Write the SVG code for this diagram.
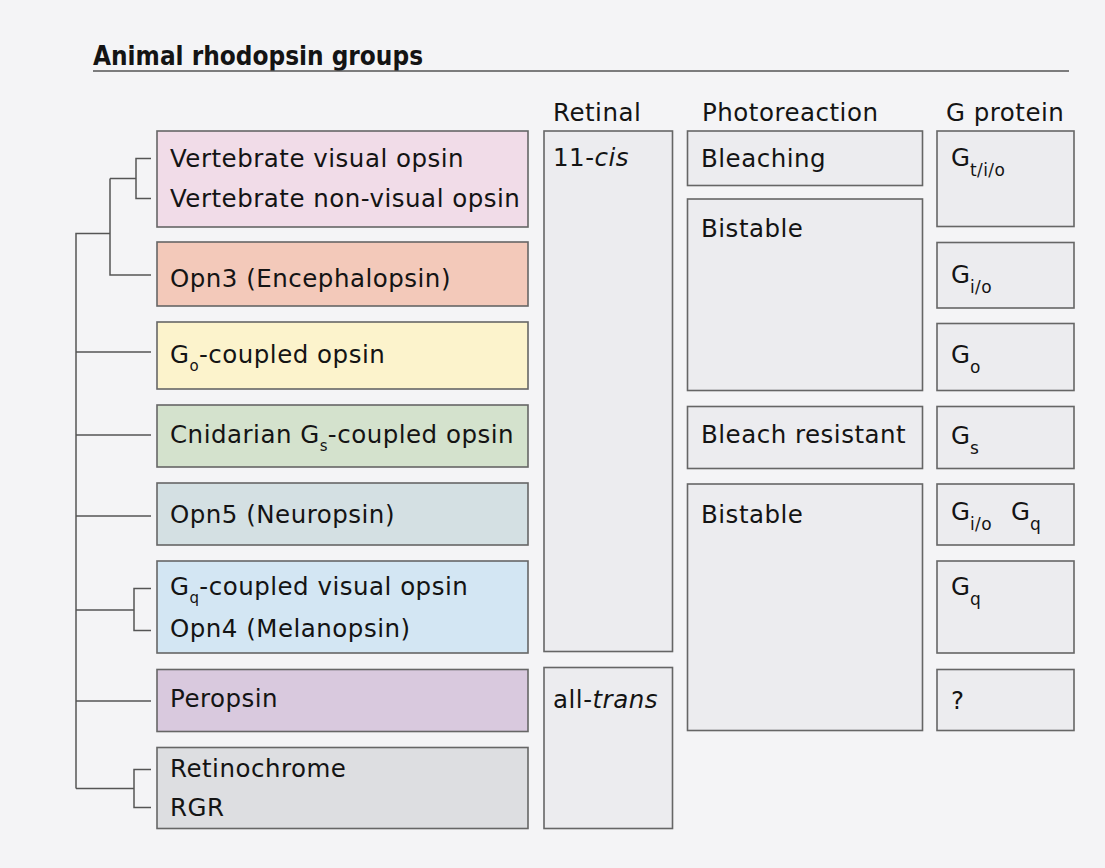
<svg xmlns="http://www.w3.org/2000/svg" width="1105" height="868" viewBox="0 0 1105 868">
<style>
  text { font-family: "DejaVu Sans", "Liberation Sans", sans-serif; font-size: 24.5px; fill: #141414; letter-spacing: 0.5px; }
  .title { font-size: 26px; font-weight: bold; letter-spacing: 0; }
  .sub { font-size: 15px; letter-spacing: 0.3px; }
  .g { letter-spacing: 0; }
  .gsub { font-size: 17px; letter-spacing: 0.4px; }
  .cell { fill: #ececef; stroke: #666; stroke-width: 1.6; }
  .grp { stroke: #666; stroke-width: 1.6; }
  .tree path { fill: none; stroke: #555; stroke-width: 1.5; }
</style>
<rect x="0" y="0" width="1105" height="868" fill="#f4f4f6"/>

<g id="title">
  <text class="title" x="93" y="65" textLength="330" lengthAdjust="spacingAndGlyphs">Animal rhodopsin groups</text>
  <line x1="93" y1="71" x2="1069" y2="71" stroke="#555" stroke-width="1.5"/>
</g>

<g id="headers">
  <text x="553" y="121">Retinal</text>
  <text x="702" y="121">Photoreaction</text>
  <text x="946" y="121">G protein</text>
</g>

<g class="tree" id="connectors">
  <path d="M151,158.5 H136 V198.5 H151"/>
  <path d="M136,178.5 H110"/>
  <path d="M110,178.5 V275 H151"/>
  <path d="M110,233.5 H76 V788.5"/>
  <path d="M76,352 H151"/>
  <path d="M76,435 H151"/>
  <path d="M76,516 H151"/>
  <path d="M76,610 H134"/>
  <path d="M151,588.5 H134 V630.5 H151"/>
  <path d="M76,701 H151"/>
  <path d="M76,788.5 H134"/>
  <path d="M151,769.5 H134 V807.5 H151"/>
</g>

<g id="vertebrate">
  <rect class="grp" x="157" y="131" width="371" height="96" fill="#f1dce8"/>
  <text x="170" y="167">Vertebrate visual opsin</text>
  <text x="170" y="207">Vertebrate non-visual opsin</text>
</g>
<g id="opn3">
  <rect class="grp" x="157" y="242" width="371" height="64" fill="#f3c9ba"/>
  <text x="170" y="287">Opn3 (Encephalopsin)</text>
</g>
<g id="go-opsin">
  <rect class="grp" x="157" y="322" width="371" height="67" fill="#fcf3cc"/>
  <text x="170" y="363">G<tspan class="sub" dy="8">o</tspan><tspan dy="-8">-coupled opsin</tspan></text>
</g>
<g id="gs-opsin">
  <rect class="grp" x="157" y="405" width="371" height="62" fill="#d4e2cd"/>
  <text x="170" y="443">Cnidarian G<tspan class="sub" dy="8">s</tspan><tspan dy="-8">-coupled opsin</tspan></text>
</g>
<g id="opn5">
  <rect class="grp" x="157" y="483" width="371" height="62" fill="#d4e0e3"/>
  <text x="170" y="523">Opn5 (Neuropsin)</text>
</g>
<g id="gq-opsin">
  <rect class="grp" x="157" y="561" width="371" height="92" fill="#d3e6f3"/>
  <text x="170" y="595">G<tspan class="sub" dy="8">q</tspan><tspan dy="-8">-coupled visual opsin</tspan></text>
  <text x="170" y="636.5">Opn4 (Melanopsin)</text>
</g>
<g id="peropsin">
  <rect class="grp" x="157" y="669.5" width="371" height="62" fill="#d9c9de"/>
  <text x="170" y="707">Peropsin</text>
</g>
<g id="retinochrome">
  <rect class="grp" x="157" y="747.5" width="371" height="81" fill="#dddee1"/>
  <text x="170" y="777">Retinochrome</text>
  <text x="170" y="816">RGR</text>
</g>

<g id="retinal-11cis">
  <rect class="cell" x="544" y="131" width="128.5" height="520.5"/>
  <text x="553" y="166">11-<tspan font-style="italic">cis</tspan></text>
</g>
<g id="retinal-alltrans">
  <rect class="cell" x="544" y="667.5" width="128.5" height="161"/>
  <text x="553" y="708">all-<tspan font-style="italic">trans</tspan></text>
</g>

<g id="photo-bleaching">
  <rect class="cell" x="687.5" y="131" width="235" height="54.5"/>
  <text x="701" y="167">Bleaching</text>
</g>
<g id="photo-bistable-1">
  <rect class="cell" x="687.5" y="199" width="235" height="191.5"/>
  <text x="701" y="237">Bistable</text>
</g>
<g id="photo-bleach-resistant">
  <rect class="cell" x="687.5" y="406.5" width="235" height="62"/>
  <text x="701" y="443">Bleach resistant</text>
</g>
<g id="photo-bistable-2">
  <rect class="cell" x="687.5" y="484" width="235" height="246.5"/>
  <text x="701" y="523">Bistable</text>
</g>

<g id="gp-tio">
  <rect class="cell" x="937" y="131" width="137" height="95.5"/>
  <text class="g" x="951" y="166">G<tspan class="gsub" dy="10">t/i/o</tspan></text>
</g>
<g id="gp-io">
  <rect class="cell" x="937" y="242.5" width="137" height="65.5"/>
  <text class="g" x="951" y="283">G<tspan class="gsub" dy="10">i/o</tspan></text>
</g>
<g id="gp-o">
  <rect class="cell" x="937" y="323.5" width="137" height="67"/>
  <text class="g" x="951" y="363">G<tspan class="gsub" dy="10">o</tspan></text>
</g>
<g id="gp-s">
  <rect class="cell" x="937" y="406.5" width="137" height="62"/>
  <text class="g" x="951" y="443.5">G<tspan class="gsub" dy="10">s</tspan></text>
</g>
<g id="gp-io-q">
  <rect class="cell" x="937" y="484" width="137" height="61"/>
  <text class="g" x="951" y="520">G<tspan class="gsub" dy="10">i/o</tspan></text>
  <text class="g" x="1011" y="520">G<tspan class="gsub" dy="10">q</tspan></text>
</g>
<g id="gp-q">
  <rect class="cell" x="937" y="561" width="137" height="92"/>
  <text class="g" x="951" y="595">G<tspan class="gsub" dy="10">q</tspan></text>
</g>
<g id="gp-unknown">
  <rect class="cell" x="937" y="669.5" width="137" height="61"/>
  <text class="g" x="951" y="708.5">?</text>
</g>
</svg>
